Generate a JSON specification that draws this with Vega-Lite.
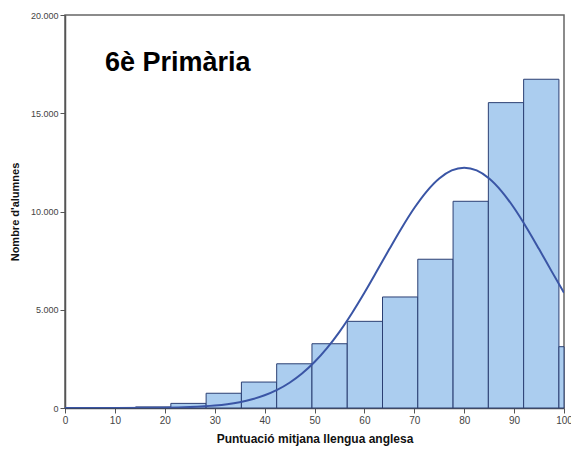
{
  "$schema": "https://vega.github.io/schema/vega-lite/v6.json",
  "width": 499,
  "height": 393,
  "autosize": {"type": "none"},
  "padding": {"left": 65, "top": 15, "right": 7, "bottom": 42},
  "background": "white",
  "config": {
    "view": {"stroke": "#666666", "strokeWidth": 1.5},
    "font": "Liberation Sans"
  },
  "title": {
    "text": "6è Primària",
    "anchor": "start",
    "frame": "group",
    "orient": "top",
    "baseline": "alphabetic",
    "offset": -87,
    "dx": 40,
    "fontSize": 27,
    "fontWeight": "bold",
    "font": "Liberation Sans",
    "color": "#000000"
  },
  "datasets": {
    "bars": [
      {"start": 0, "end": 7.07, "count": 10},
      {"start": 7.07, "end": 14.14, "count": 15},
      {"start": 14.14, "end": 21.21, "count": 55},
      {"start": 21.21, "end": 28.28, "count": 235},
      {"start": 28.28, "end": 35.35, "count": 750},
      {"start": 35.35, "end": 42.42, "count": 1320},
      {"start": 42.42, "end": 49.49, "count": 2250},
      {"start": 49.49, "end": 56.56, "count": 3270},
      {"start": 56.56, "end": 63.63, "count": 4410},
      {"start": 63.63, "end": 70.7, "count": 5650},
      {"start": 70.7, "end": 77.77, "count": 7570},
      {"start": 77.77, "end": 84.84, "count": 10520},
      {"start": 84.84, "end": 91.91, "count": 15540},
      {"start": 91.91, "end": 98.98, "count": 16730},
      {"start": 98.98, "end": 100, "count": 3120}
    ],
    "curve": [
      {"x": 0, "y": 0},
      {"x": 10, "y": 2},
      {"x": 20, "y": 16},
      {"x": 25, "y": 47},
      {"x": 30, "y": 123},
      {"x": 32.5, "y": 193},
      {"x": 35, "y": 296},
      {"x": 37.5, "y": 442},
      {"x": 40, "y": 646},
      {"x": 42.5, "y": 922},
      {"x": 45, "y": 1286},
      {"x": 47.5, "y": 1754},
      {"x": 50, "y": 2339},
      {"x": 52.5, "y": 3047},
      {"x": 55, "y": 3877},
      {"x": 57.5, "y": 4824},
      {"x": 60, "y": 5863},
      {"x": 62.5, "y": 6966},
      {"x": 65, "y": 8088},
      {"x": 67.5, "y": 9177},
      {"x": 70, "y": 10177},
      {"x": 72.5, "y": 11029},
      {"x": 75, "y": 11681},
      {"x": 77.5, "y": 12091},
      {"x": 80, "y": 12230},
      {"x": 82.5, "y": 12091},
      {"x": 85, "y": 11681},
      {"x": 87.5, "y": 11029},
      {"x": 90, "y": 10177},
      {"x": 92.5, "y": 9177},
      {"x": 95, "y": 8088},
      {"x": 97.5, "y": 6966},
      {"x": 100, "y": 5863}
    ]
  },
  "layer": [
    {
      "data": {"name": "bars"},
      "mark": {"type": "rect", "fill": "#abcdef", "stroke": "#2b3f73", "strokeWidth": 1},
      "encoding": {
        "x": {
          "field": "start", "type": "quantitative",
          "scale": {"domain": [0, 100], "nice": false, "zero": false},
          "axis": {
            "values": [0, 10, 20, 30, 40, 50, 60, 70, 80, 90, 100],
            "title": "Puntuació mitjana llengua anglesa",
            "titleFontSize": 12, "titleFontWeight": "bold", "titleColor": "#111111",
            "titlePadding": 8,
            "labelFontSize": 10, "labelColor": "#444444",
            "grid": false,
            "domainColor": "#555555", "domainWidth": 1.5,
            "tickColor": "#555555", "tickSize": 5,
            "labelFlush": false
          }
        },
        "x2": {"field": "end"},
        "y": {
          "field": "count", "type": "quantitative",
          "scale": {"domain": [0, 20000], "nice": false},
          "axis": {
            "values": [0, 5000, 10000, 15000, 20000],
            "labelExpr": "replace(format(datum.value, ',d'), ',', '.')",
            "title": "Nombre d'alumnes",
            "titleFontSize": 11, "titleFontWeight": "bold", "titleColor": "#111111",
            "titlePadding": 10,
            "labelFontSize": 9, "labelColor": "#444444",
            "grid": false,
            "domainColor": "#555555", "domainWidth": 1.5,
            "tickColor": "#555555", "tickSize": 5
          }
        },
        "y2": {"datum": 0}
      }
    },
    {
      "data": {"name": "curve"},
      "mark": {"type": "line", "color": "#3a55a5", "strokeWidth": 2, "interpolate": "monotone", "clip": true},
      "encoding": {
        "x": {"field": "x", "type": "quantitative"},
        "y": {"field": "y", "type": "quantitative"}
      }
    }
  ]
}
